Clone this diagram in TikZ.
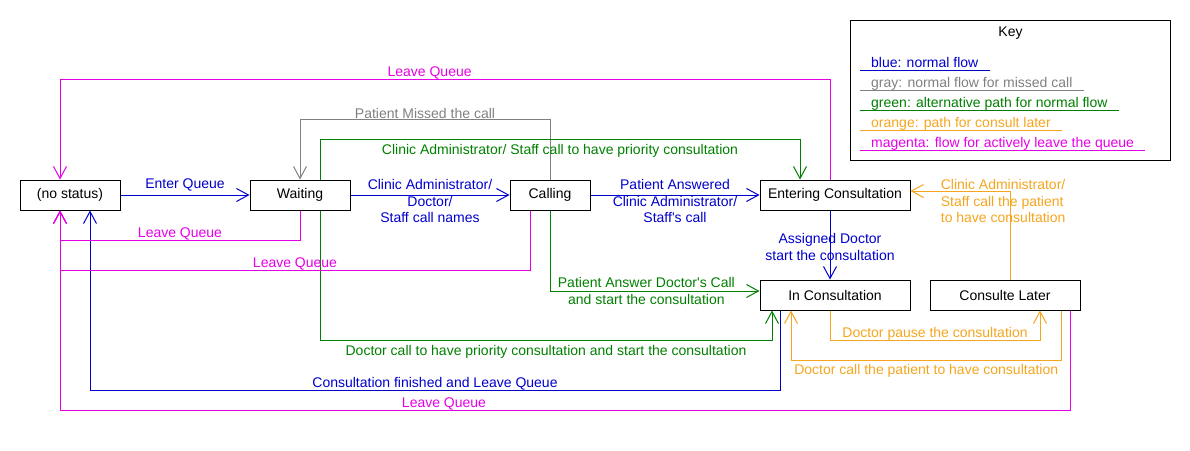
\documentclass[tikz,border=0pt]{standalone}
\usepackage{fontspec}
\setmainfont{Liberation Sans}
\usepackage{tikz}
\usetikzlibrary{positioning,arrows.meta}
\definecolor{flowblue}{RGB}{0,0,204}
\definecolor{flowgray}{RGB}{128,128,128}
\definecolor{flowgreen}{RGB}{0,128,0}
\definecolor{floworange}{RGB}{245,165,30}
\definecolor{flowmag}{RGB}{230,0,230}

\begin{document}
\begin{tikzpicture}[
  x=1pt,y=-1pt,
  font=\fontsize{14}{16.5}\selectfont,
  stat/.style={draw,line width=1pt,minimum height=30pt,inner sep=2pt},
  ar/.style={-{Straight Barb[length=12pt,width=13pt]},line width=1pt},
  lbl/.style={inner sep=0pt,align=center},
  keyent/.style={anchor=south west,inner xsep=11pt,inner ysep=0pt,text depth=2.5pt}
]
\useasboundingbox (0,0) rectangle (1190,450);

\node[stat,minimum width=100pt] (nost) at (70,195) {(no status)};
\node[stat,minimum width=100pt,right=129pt of nost] (wait) {Waiting};
\node[stat,minimum width=80pt,right=159pt of wait] (call) {Calling};
\node[stat,minimum width=150pt,right=169pt of call] (enter) {Entering Consultation};
\node[stat,minimum width=150pt,below=69pt of enter] (incons) {In Consultation};
\node[stat,minimum width=150pt,right=19pt of incons] (later) {Consulte Later};

% key
\node[draw,line width=1pt,minimum width=320pt,minimum height=140pt,anchor=north west] (key) at (850,20) {};
\node[anchor=north,inner sep=0pt] (keyttl) at ([yshift=-7pt]key.north) {Key};
\node[keyent,flowblue] (kblue) at ([xshift=10pt,yshift=-50pt]key.north west) {blue: normal flow};
\node[keyent,flowgray] (kgray) at ([yshift=-20pt]kblue.south west) {gray: normal flow for missed call};
\node[keyent,flowgreen] (kgreen) at ([yshift=-20pt]kgray.south west) {green: alternative path for normal flow};
\node[keyent,floworange] (korange) at ([yshift=-20pt]kgreen.south west) {orange: path for consult later};
\node[keyent,flowmag] (kmag) at ([yshift=-20pt]korange.south west) {magenta: flow for actively leave the queue};
\draw[flowblue] (kblue.south west) -- (kblue.south east);
\draw[flowgray] (kgray.south west) -- (kgray.south east);
\draw[flowgreen] (kgreen.south west) -- (kgreen.south east);
\draw[floworange] (korange.south west) -- (korange.south east);
\draw[flowmag] (kmag.south west) -- (kmag.south east);

% blue: normal flow
\draw[ar,flowblue] (nost) -- node[above,inner sep=3pt]{Enter Queue} (wait);
\draw[ar,flowblue] (wait) -- node[lbl,yshift=-6pt]{Clinic Administrator/\\Doctor/\\Staff call names} (call);
\draw[ar,flowblue] (call) -- node[lbl,yshift=-6pt]{Patient Answered\\Clinic Administrator/\\Staff{\textquotesingle}s call} (enter);
\draw[ar,flowblue] ([xshift=-5pt]enter.south) -- node[lbl,yshift=-2pt]{Assigned Doctor\\start the consultation} ([xshift=-5pt]incons.north);
\draw[ar,flowblue] ([xshift=-55pt]incons.south) -- ++(0,80) -| node[pos=0.25,above,inner sep=0pt]{Consultation finished and Leave Queue} ([xshift=20pt]nost.south);

% gray: missed call
\draw[ar,flowgray] (call.north) -- ++(0,-60) -| node[pos=0.25,above,inner sep=0pt]{Patient Missed the call} (wait.north);

% green: alternative path
\draw[ar,flowgreen] ([xshift=20pt]wait.north) -- ++(0,-40) -| node[pos=0.25,below,inner sep=4pt]{Clinic Administrator/ Staff call to have priority consultation} ([xshift=-35pt]enter.north);
\draw[ar,flowgreen] ([xshift=20pt]wait.south) -- ++(0,130) -| node[pos=0.25,below,inner sep=4pt]{Doctor call to have priority consultation and start the consultation} ([xshift=-63pt]incons.south);
\draw[ar,flowgreen] (call.south) |- node[pos=0.73,lbl]{Patient Answer Doctor{\textquotesingle}s Call\\and start the consultation} ([yshift=4pt]incons.west);

% orange: consult later
\draw[ar,floworange] ([xshift=-5pt]incons.south) -- ++(0,30) -| node[pos=0.25,above,inner sep=0pt]{Doctor pause the consultation} ([xshift=35pt]later.south);
\draw[ar,floworange] ([xshift=-19pt]later.south east) -- ++(0,50) -| node[pos=0.25,below,inner sep=3pt]{Doctor call the patient to have consultation} ([xshift=-44pt]incons.south);
\draw[ar,floworange] ([xshift=5pt]later.north) |- node[pos=0.85,lbl,anchor=west,align=left,yshift=-10pt]{Clinic Administrator/\\Staff call the patient\\to have consultation} ([yshift=4pt]enter.east);

% magenta: leave the queue
\draw[ar,flowmag] ([xshift=-5pt]enter.north) -- ++(0,-100) -| node[pos=0.26,above,inner sep=0pt]{Leave Queue} ([xshift=-10pt]nost.north);
\draw[ar,flowmag] (wait.south) -- ++(0,30) -| node[pos=0.25,above,inner sep=0pt]{Leave Queue} ([xshift=-10pt]nost.south);
\draw[ar,flowmag] ([xshift=-20pt]call.south) -- ++(0,60) -| node[pos=0.25,above,inner sep=0pt]{Leave Queue} ([xshift=-10pt]nost.south);
\draw[ar,flowmag] ([xshift=-10pt]later.south east) -- ++(0,100) -| node[pos=0.31,above,inner sep=0pt]{Leave Queue} ([xshift=-10pt]nost.south);
\end{tikzpicture}
\end{document}
